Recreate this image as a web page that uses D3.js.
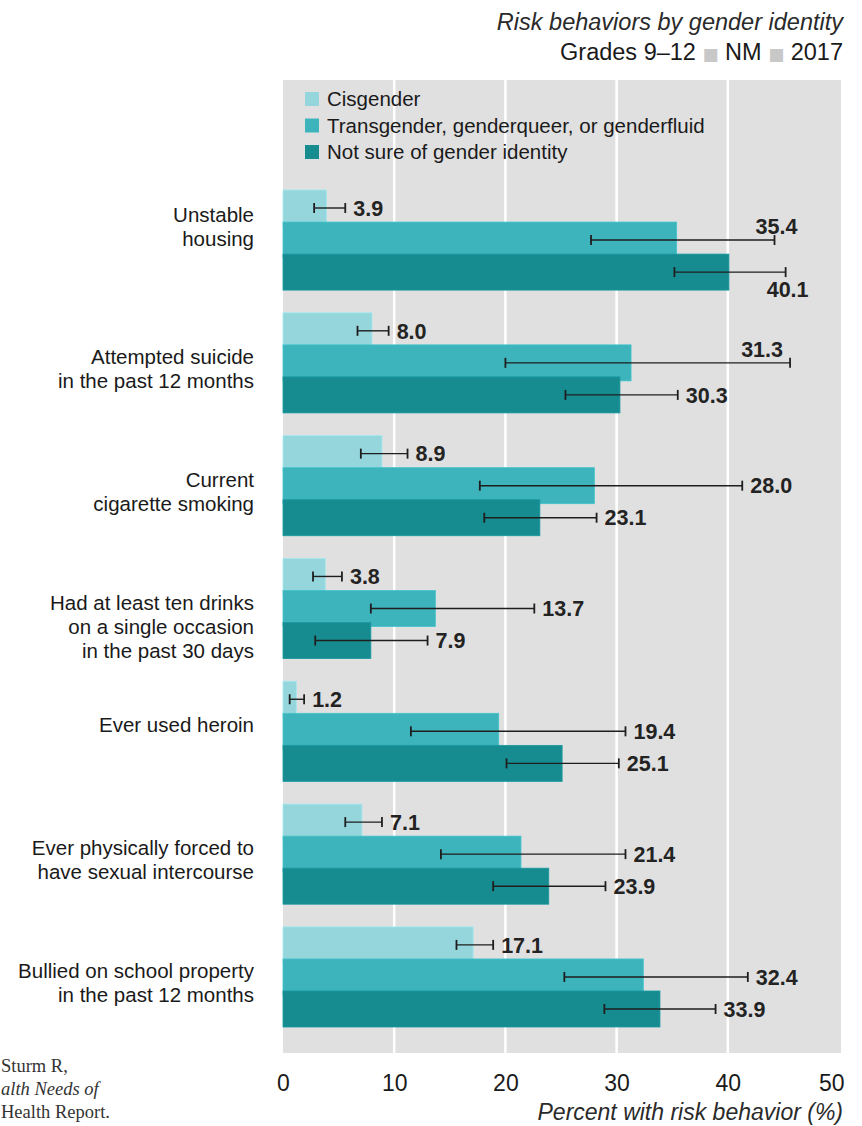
<!DOCTYPE html>
<html>
<head>
<meta charset="utf-8">
<script src="https://cdn.jsdelivr.net/npm/d3@7"></script>
<style>
  html, body { margin: 0; padding: 0; background: #ffffff; }
  svg { display: block; }
</style>
</head>
<body>
<svg id="chart" width="862" height="1126"></svg>
<script>
// ---------- data ----------
const categories = [
  "Unstable\nhousing",
  "Attempted suicide\nin the past 12 months",
  "Current\ncigarette smoking",
  "Had at least ten drinks\non a single occasion\nin the past 30 days",
  "Ever used heroin",
  "Ever physically forced to\nhave sexual intercourse",
  "Bullied on school property\nin the past 12 months"
];
const seriesNames = ["Cisgender", "Transgender, genderqueer, or genderfluid", "Not sure of gender identity"];
const cisgender   = [3.9, 8.0, 8.9, 3.8, 1.2, 7.1, 17.1];
const transgender = [35.4, 31.3, 28.0, 13.7, 19.4, 21.4, 32.4];
const notSure     = [40.1, 30.3, 23.1, 7.9, 25.1, 23.9, 33.9];
const cisgenderLow    = [2.8, 6.7, 7.0, 2.7, 0.6, 5.6, 15.6];
const cisgenderHigh   = [5.6, 9.5, 11.2, 5.3, 1.9, 8.9, 18.9];
const transgenderLow  = [27.7, 20.0, 17.7, 7.9, 11.5, 14.2, 25.3];
const transgenderHigh = [44.2, 45.6, 41.3, 22.6, 30.8, 30.8, 41.8];
const notSureLow      = [35.2, 25.4, 18.1, 2.9, 20.1, 18.9, 28.9];
const notSureHigh     = [45.2, 35.5, 28.2, 13.0, 30.2, 29.0, 38.9];
const xTicks = [0, 10, 20, 30, 40, 50];
const titleText = "Risk behaviors by gender identity";
const subtitleParts = ["Grades 9\u201312", "NM", "2017"];
const xAxisTitle = "Percent with risk behavior (%)";
const citationLines = ["Sturm R,", "alth Needs of", "Health Report."];

// ---------- styles / layout ----------
const colors = ["#95d6dc", "#3db3bb", "#168c91"];
const FONT = "'Liberation Sans', Arial, sans-serif";
const values = [cisgender, transgender, notSure];
const lows = [cisgenderLow, transgenderLow, notSureLow];
const highs = [cisgenderHigh, transgenderHigh, notSureHigh];
const catLabelNudge = { 0: -19 };
const labelNudge = { "1-1": -30 };

const svg = d3.select("#chart");

const x = d3.scaleLinear().domain([0, 50]).range([283, 839]);
const y = d3.scaleBand().domain(categories).range([190, 1027]).paddingInner(0.185).paddingOuter(0);
const barH = 36;
const sub = d3.scaleLinear().domain([0, 2]).range([0, y.bandwidth() - barH]);

// background panel
svg.append("rect")
  .attr("x", x(0)).attr("y", 80)
  .attr("width", x(50) - x(0) + 2).attr("height", 973)
  .attr("fill", "#e0e0e0");

// gridlines
svg.append("g").selectAll("line")
  .data(xTicks.filter(t => t > 0 && t < 50))
  .join("line")
  .attr("x1", d => x(d)).attr("x2", d => x(d))
  .attr("y1", 80).attr("y2", 1053)
  .attr("stroke", "#ffffff").attr("stroke-width", 2.5);

// legend
const legend = svg.append("g");
seriesNames.forEach((name, i) => {
  const cy = 99 + i * 26.5;
  legend.append("rect").attr("x", 305).attr("y", cy - 7).attr("width", 14).attr("height", 14).attr("fill", colors[i]);
  legend.append("text").attr("x", 327).attr("y", cy).attr("dy", "0.35em")
    .attr("font-family", FONT).attr("font-size", 20.5).attr("fill", "#1a1a1a").text(name);
});

// bars
const rows = [];
categories.forEach((c, ci) => {
  [0, 1, 2].forEach(si => rows.push({ c, ci, si, v: values[si][ci], lo: lows[si][ci], hi: highs[si][ci] }));
});

svg.append("g").selectAll("rect")
  .data(rows)
  .join("rect")
  .attr("x", x(0))
  .attr("y", d => y(d.c) + sub(d.si))
  .attr("width", d => x(d.v) - x(0))
  .attr("height", barH)
  .attr("fill", d => colors[d.si])
  .attr("stroke", d => d3.color(colors[d.si]).brighter(0.25))
  .attr("stroke-width", 0.8);

// error bars
const gErr = svg.append("g").attr("stroke", "#1e1e1e");
rows.forEach(d => {
  const cy = y(d.c) + sub(d.si) + barH / 2;
  gErr.append("line").attr("x1", x(d.lo)).attr("x2", x(d.hi)).attr("y1", cy).attr("y2", cy).attr("stroke-width", 1.4);
  [d.lo, d.hi].forEach(v => {
    gErr.append("line").attr("x1", x(v)).attr("x2", x(v)).attr("y1", cy - 5).attr("y2", cy + 5).attr("stroke-width", 1.8);
  });
});

// value labels
const gLab = svg.append("g");
rows.forEach(d => {
  const cy = y(d.c) + sub(d.si) + barH / 2;
  const t = gLab.append("text")
    .attr("font-family", FONT).attr("font-weight", 700).attr("font-size", 21.5)
    .attr("fill", "#232323").attr("dy", "0.36em")
    .text(d.v.toFixed(1));
  if (d.si > 0 && d.hi > 43) {
    const nudge = labelNudge[d.ci + "-" + d.si] || 0;
    t.attr("text-anchor", "middle")
      .attr("x", x(d.hi) + 2 + nudge)
      .attr("y", d.si === 1 ? cy - 14 : cy + 17);
  } else {
    t.attr("x", x(d.hi) + 8).attr("y", cy);
  }
});

// category labels (one text element per category, lines as tspans)
const gCat = svg.append("g");
categories.forEach((c, ci) => {
  const lines = c.split("\n");
  const top = y(c) + 44 + (catLabelNudge[ci] || 0);
  const t = gCat.append("text")
    .attr("text-anchor", "end")
    .attr("font-family", FONT).attr("font-size", 20.5).attr("fill", "#1a1a1a");
  lines.forEach((ln, li) => {
    t.append("tspan").attr("x", 254).attr("y", top + li * 24).attr("dy", "0.35em").text(ln);
  });
});

// x axis
const xAxis = d3.axisBottom(x).tickValues(xTicks).tickSize(0).tickPadding(0).tickFormat(d3.format("d"));
const gx = svg.append("g").attr("transform", "translate(0,1075)").call(xAxis);
gx.select(".domain").remove();
gx.selectAll("text").attr("font-family", FONT).attr("font-size", 23).attr("fill", "#1a1a1a").attr("dy", "0.71em");
gx.selectAll(".tick").filter(d => d === 50).select("text").attr("text-anchor", "end").attr("x", 5);

svg.append("text")
  .attr("x", 843).attr("y", 1112).attr("dy", "0.35em").attr("text-anchor", "end")
  .attr("font-family", FONT).attr("font-style", "italic").attr("font-size", 23).attr("fill", "#2a2a2a")
  .text(xAxisTitle);

// title
svg.append("text")
  .attr("x", 843).attr("y", 22).attr("dy", "0.35em").attr("text-anchor", "end")
  .attr("font-family", FONT).attr("font-style", "italic").attr("font-size", 23.5).attr("fill", "#2a2a2a")
  .text(titleText);

const sub1 = svg.append("text")
  .attr("x", 843).attr("y", 52).attr("dy", "0.35em").attr("text-anchor", "end")
  .attr("font-family", FONT).attr("font-size", 23.5).attr("fill", "#1a1a1a");
subtitleParts.forEach((p, i) => {
  if (i > 0) {
    sub1.append("tspan").text(" ");
    sub1.append("tspan").attr("fill", "#c8c8c8").attr("font-size", 17).attr("font-family", "'DejaVu Sans'").text("\u25A0");
    sub1.append("tspan").text(" ");
  }
  sub1.append("tspan").text(p);
});

// fragment of citation text from the neighbouring column
citationLines.forEach((ln, i) => {
  svg.append("text").attr("x", 1).attr("y", 1066 + i * 23).attr("dy", "0.35em")
    .attr("font-family", "'Liberation Serif', serif").attr("font-size", 18.5)
    .attr("font-style", i === 1 ? "italic" : "normal").attr("fill", "#333")
    .text(ln);
});
</script>
</body>
</html>
